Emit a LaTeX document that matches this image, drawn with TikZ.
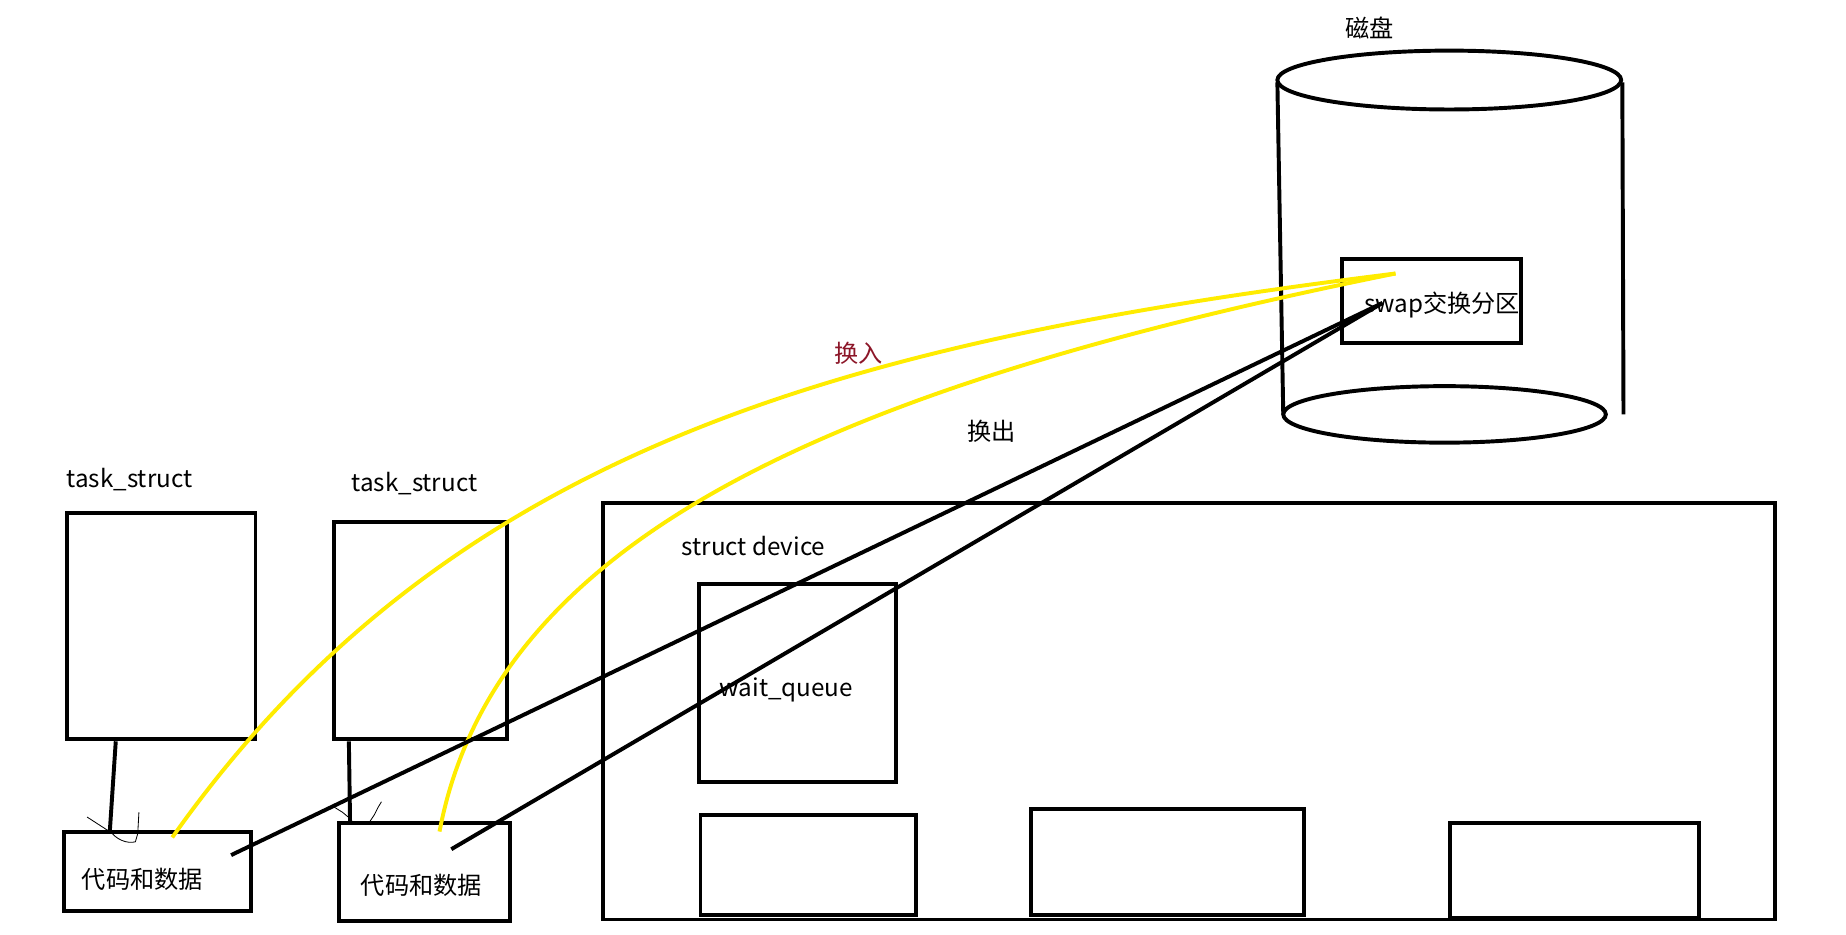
\documentclass[tikz,border=0pt]{standalone}
\usepackage{fontspec}
\setmainfont{Noto Sans CJK SC}
\usepackage{xcolor}
\usepackage{tikz}
\usetikzlibrary{calc}
\definecolor{swapyellow}{RGB}{255,236,0}
\definecolor{inred}{RGB}{140,22,40}
\tikzset{
  box/.style={rectangle, draw=black, line width=1.9pt, inner sep=0pt},
  lbl/.style={inner sep=0pt, font=\fontsize{11.7}{14}\selectfont},
  swapin/.style={swapyellow, line width=1.9pt},
  swapout/.style={black, line width=1.9pt},
  link/.style={black, line width=1.9pt},
  scribble/.style={black, line width=0.4pt},
  disk/.style={black, line width=1.9pt}
}

\begin{document}
\begin{tikzpicture}[x=0.2mm, y=-0.2mm]
  \useasboundingbox (0,0) rectangle (1568,794);

  % Disk with swap partition
  \node[lbl] (disklbl) at (1163,24) {磁盘};
  \draw[disk] (1231,68) ellipse [x radius=29.2mm, y radius=5mm];
  \draw[disk] (1085,70) -- (1090,352);
  \draw[disk] (1378,70) -- (1379,352);
  \draw[disk] (1227,352) ellipse [x radius=27.4mm, y radius=4.8mm];
  \node[box, minimum width=30.4mm, minimum height=14.2mm] (swap) at (1216,255.5) {};
  \node[lbl] (swaplbl) at (1225,259) {swap交换分区};

  % Processes
  \node[lbl] (task1lbl) at (110,407) {task\_struct};
  \node[box, minimum width=32mm, minimum height=38.4mm] (task1) at (137,532) {};
  \node[box, minimum width=31.8mm, minimum height=13.4mm] (code1) at (133.5,740.5) {};
  \node[lbl] (code1lbl) at (121,747) {代码和数据};
  \draw[link] ([xshift=8.6mm]task1.south west) -- ([xshift=8.2mm]code1.north west);
  \draw[scribble] (74,694) -- (91,705) -- (93,706);
  \draw[scribble] (93,705) .. controls (98,713) and (108,717) .. (115,715) -- (117,708) -- (118,690);

  \node[lbl] (task2lbl) at (352,411) {task\_struct};
  \node[box, minimum width=29.4mm, minimum height=37mm] (task2) at (357.5,535.5) {};
  \node[box, minimum width=29mm, minimum height=16.6mm] (code2) at (360.5,740.5) {};
  \node[lbl] (code2lbl) at (358,752) {代码和数据};
  \draw[link] ([xshift=2.8mm]task2.south west) -- ([xshift=2.2mm]code2.north west);
  \draw[scribble] (283,685) -- (291,690) -- (297,695);
  \draw[scribble] (324,681) -- (321,686) -- (318,692) -- (314,698);

  % Device
  \node[box, minimum width=199.2mm, minimum height=70.8mm] (device) at (1010,604) {};
  \node[lbl] (devicelbl) at (640,464) {struct device};
  \node[box, minimum width=33.4mm, minimum height=33.6mm] (waitq) at (677.5,580) {};
  \node[lbl] (waitqlbl) at (668,586) {wait\_queue};
  \node[box, minimum width=36.6mm, minimum height=17mm] (slot1) at (686.5,734.5) {};
  \node[box, minimum width=46.4mm, minimum height=18mm] (slot2) at (992,732) {};
  \node[box, minimum width=42.2mm, minimum height=16.2mm] (slot3) at (1337.5,739.5) {};

  % Swap in / swap out
  \coordinate (in1) at ($(code1.north west)+(94,6)$);
  \coordinate (in2) at ($(code2.north west)+(87,9)$);
  \coordinate (inend) at ($(swap.north west)+(47,14)$);
  \draw[swapin] (in1) .. controls (380,380) and (720,290) .. (inend);
  \draw[swapin] (in2) .. controls (420,460) and (700,330) .. (inend);
  \node[lbl, text=inred] (inlbl) at (729,300) {换入};

  \coordinate (out1) at ($(code1.north west)+(144,21)$);
  \coordinate (out2) at ($(code2.north west)+(97,24)$);
  \coordinate (outend) at ($(swap.north west)+(36,39)$);
  \draw[swapout] (out1) -- (outend);
  \draw[swapout] (out2) -- (outend);
  \node[lbl] (outlbl) at (842,366) {换出};
\end{tikzpicture}
\end{document}
